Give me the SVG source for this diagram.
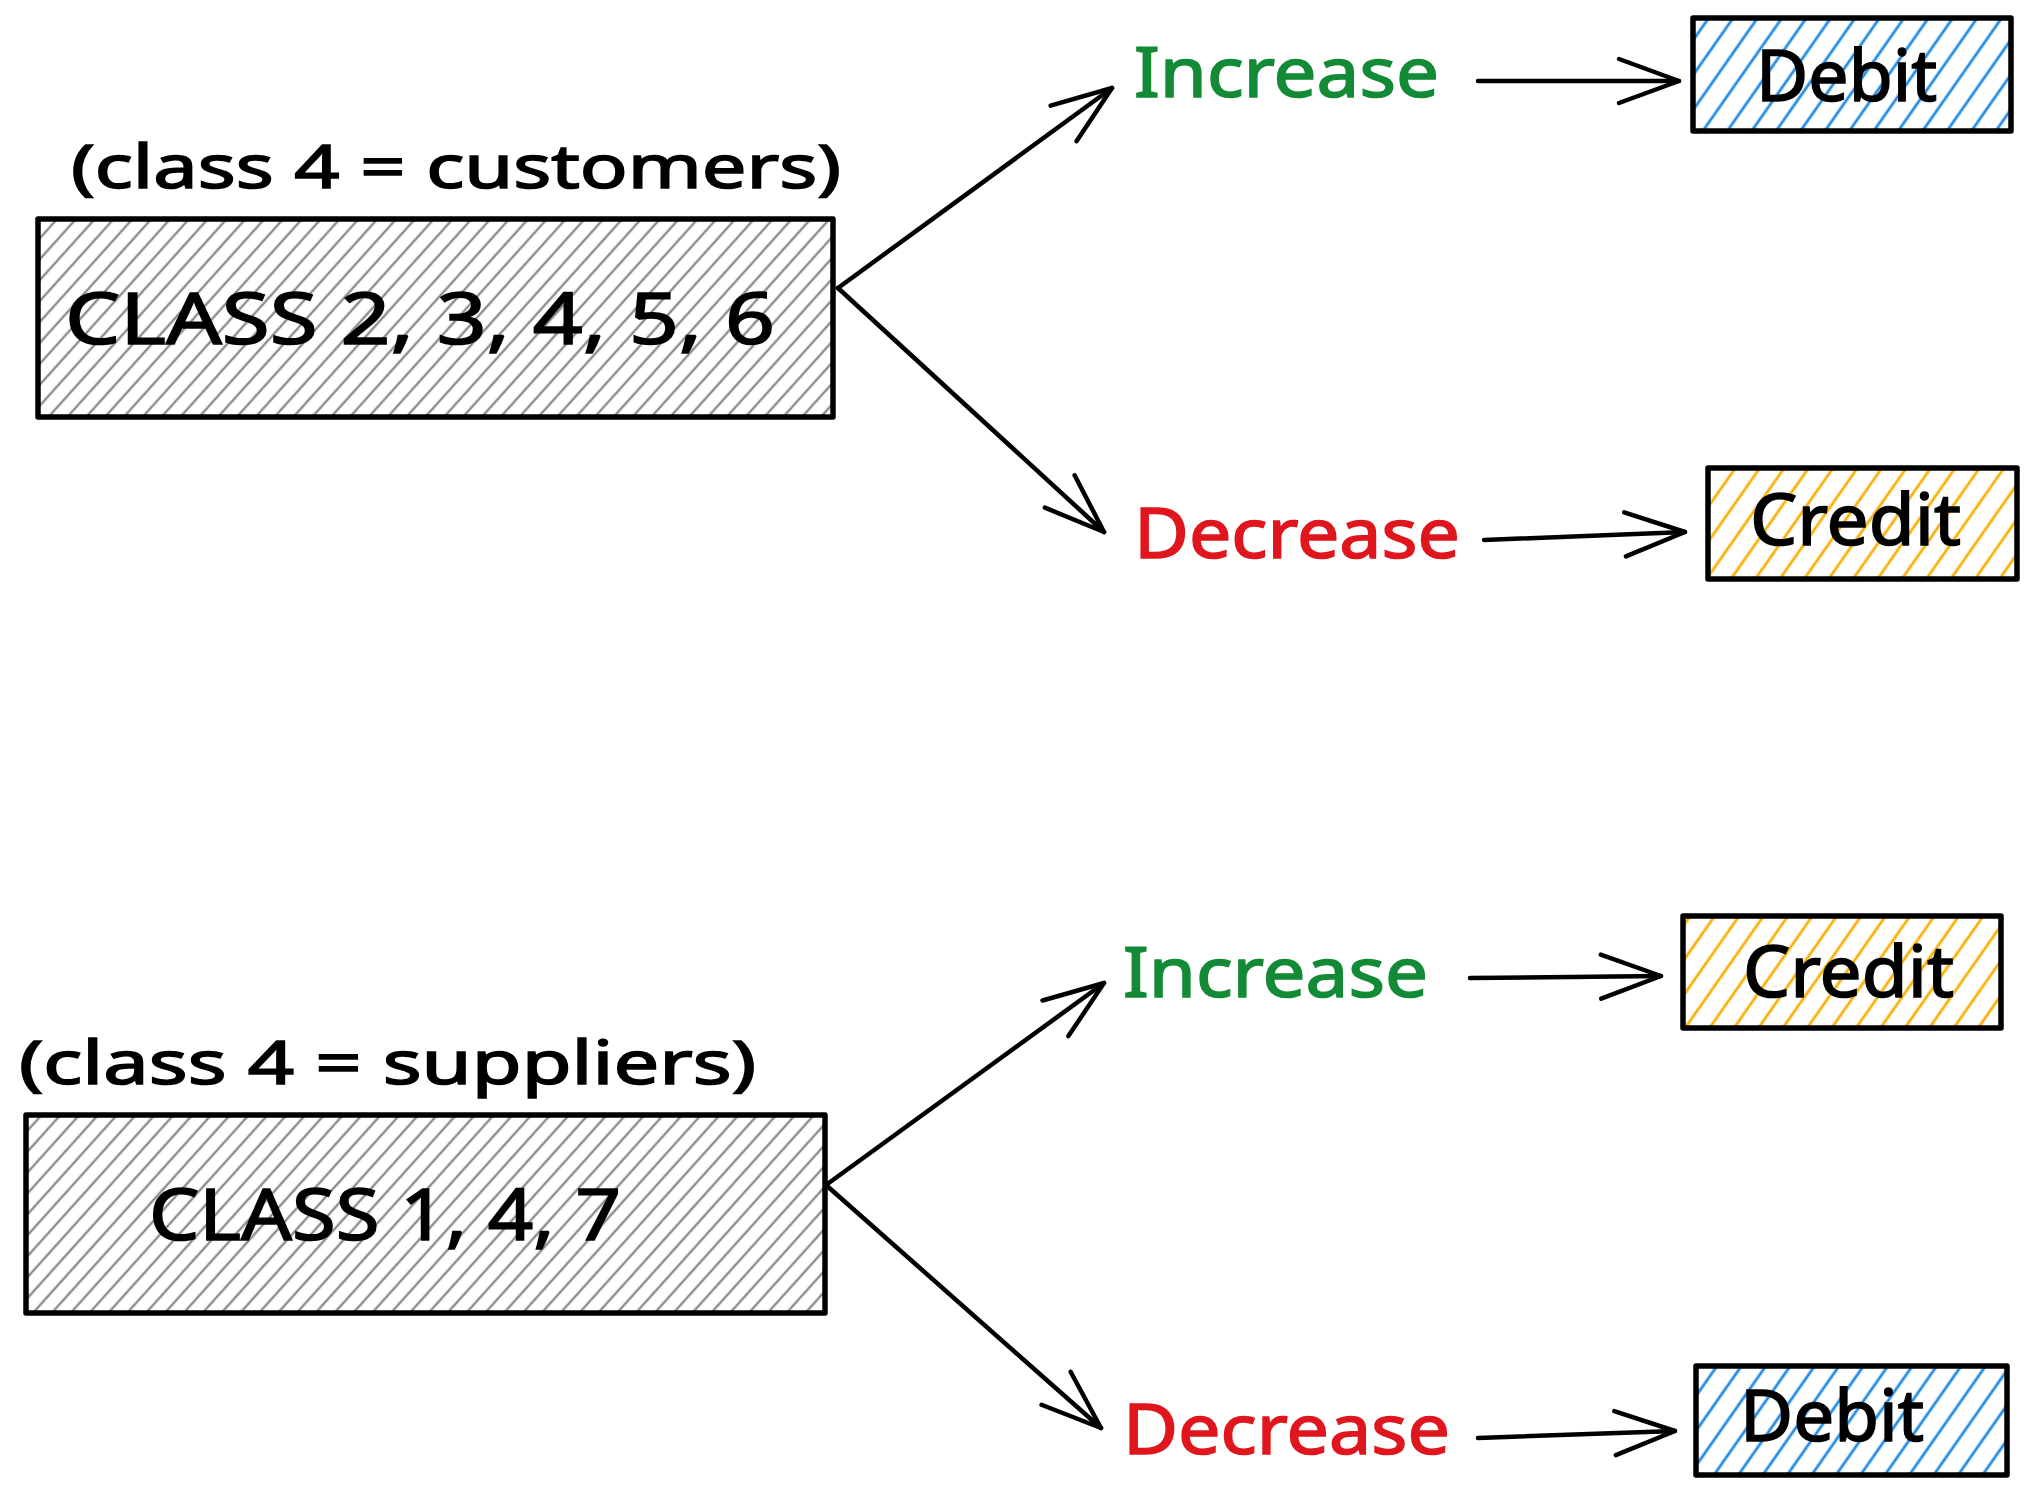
<svg xmlns="http://www.w3.org/2000/svg" width="2036" height="1495" viewBox="0 0 2036 1495">
<style>
.box{stroke:#000;stroke-width:5.5;stroke-linejoin:round}
.t{font-family:"Noto Sans","Liberation Sans",sans-serif;fill:#000;stroke:#000;stroke-width:1.6}
.inc{fill:#138a36;stroke:#138a36}
.dec{fill:#e0161e;stroke:#e0161e}
.con{stroke:#000;stroke-width:4.5;fill:none;stroke-linecap:round}
</style>
<defs>
<pattern id="hg" patternUnits="userSpaceOnUse" width="14" height="14" patternTransform="rotate(42)">
<rect width="14" height="14" fill="#fff"/>
<line x1="7" y1="0" x2="7" y2="14" stroke="#868e96" stroke-width="2.4"/>
</pattern>
<pattern id="hb" patternUnits="userSpaceOnUse" width="20" height="20" patternTransform="rotate(35)">
<rect width="20" height="20" fill="#fff"/>
<line x1="10" y1="0" x2="10" y2="20" stroke="#228be6" stroke-width="2.8"/>
</pattern>
<pattern id="ho" patternUnits="userSpaceOnUse" width="20" height="20" patternTransform="rotate(35)">
<rect width="20" height="20" fill="#fff"/>
<line x1="10" y1="0" x2="10" y2="20" stroke="#fab005" stroke-width="2.8"/>
</pattern>
<marker id="ah" markerUnits="userSpaceOnUse" viewBox="-70 -30 80 60" refX="0" refY="0" markerWidth="80" markerHeight="60" orient="auto" overflow="visible">
<path d="M-60,-22 L0,0 L-60,22" fill="none" stroke="#000" stroke-width="4.5" stroke-linecap="round" stroke-linejoin="round"/>
</marker>
</defs>
<rect width="2036" height="1495" fill="#fff"/>

<g id="connectors">
<line class="con" x1="838" y1="288" x2="1112" y2="88" stroke-width="6" marker-end="url(#ah)"/>
<line class="con" x1="838" y1="288" x2="1104" y2="532" marker-end="url(#ah)"/>
<line class="con" x1="1478" y1="81" x2="1679" y2="81" stroke-width="5.5" marker-end="url(#ah)"/>
<line class="con" x1="1484" y1="540" x2="1685" y2="532" marker-end="url(#ah)"/>
<line class="con" x1="826" y1="1185" x2="1104" y2="983" marker-end="url(#ah)"/>
<line class="con" x1="826" y1="1185" x2="1101" y2="1428" marker-end="url(#ah)"/>
<line class="con" x1="1470" y1="978" x2="1661" y2="976" marker-end="url(#ah)"/>
<line class="con" x1="1478" y1="1438" x2="1675" y2="1431" stroke-width="5.5" marker-end="url(#ah)"/>
</g>

<g id="label-customers">
<text class="t" x="71" y="188" font-size="60" textLength="770" lengthAdjust="spacingAndGlyphs">(class 4 = customers)</text>
</g>
<g id="class-23456">
<rect class="box" x="38" y="219" width="795" height="198" fill="url(#hg)"/>
<text class="t" x="65" y="344" font-size="72" textLength="710" lengthAdjust="spacingAndGlyphs">CLASS 2, 3, 4, 5, 6</text>
</g>
<g id="increase-1">
<text class="t inc" x="1134" y="97" font-size="70" textLength="305" lengthAdjust="spacingAndGlyphs">Increase</text>
</g>
<g id="decrease-1">
<text class="t dec" x="1134" y="558" font-size="70" textLength="326" lengthAdjust="spacingAndGlyphs">Decrease</text>
</g>
<g id="debit-1">
<rect class="box" x="1693" y="18" width="318" height="113" fill="url(#hb)"/>
<text class="t" x="1756" y="101" font-size="72" textLength="181" lengthAdjust="spacingAndGlyphs">Debit</text>
</g>
<g id="credit-1">
<rect class="box" x="1708" y="468" width="309" height="111" fill="url(#ho)"/>
<text class="t" x="1750" y="545" font-size="72" textLength="211" lengthAdjust="spacingAndGlyphs">Credit</text>
</g>

<g id="label-suppliers">
<text class="t" x="19" y="1084" font-size="60" textLength="737" lengthAdjust="spacingAndGlyphs">(class 4 = suppliers)</text>
</g>
<g id="class-147">
<rect class="box" x="26" y="1115" width="799" height="198" fill="url(#hg)"/>
<text class="t" x="149" y="1240" font-size="72" textLength="472" lengthAdjust="spacingAndGlyphs">CLASS 1, 4, 7</text>
</g>
<g id="increase-2">
<text class="t inc" x="1123" y="997" font-size="70" textLength="305" lengthAdjust="spacingAndGlyphs">Increase</text>
</g>
<g id="decrease-2">
<text class="t dec" x="1123" y="1454" font-size="70" textLength="327" lengthAdjust="spacingAndGlyphs">Decrease</text>
</g>
<g id="credit-2">
<rect class="box" x="1683" y="916" width="318" height="112" fill="url(#ho)"/>
<text class="t" x="1743" y="997" font-size="72" textLength="211" lengthAdjust="spacingAndGlyphs">Credit</text>
</g>
<g id="debit-2">
<rect class="box" x="1696" y="1366" width="311" height="109" fill="url(#hb)"/>
<text class="t" x="1740" y="1441" font-size="72" textLength="184" lengthAdjust="spacingAndGlyphs">Debit</text>
</g>
</svg>
